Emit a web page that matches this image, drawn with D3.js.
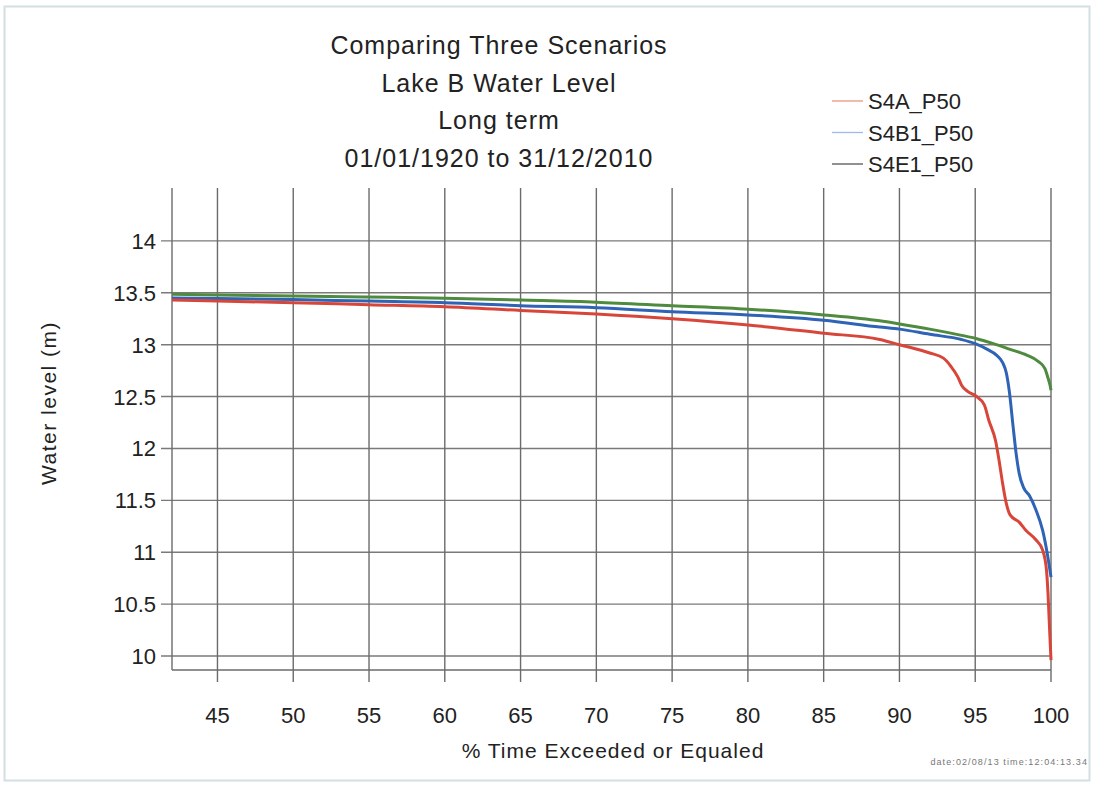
<!DOCTYPE html>
<html><head><meta charset="utf-8">
<script src="https://cdn.jsdelivr.net/npm/d3@7"></script>
<style>
html,body{margin:0;padding:0;background:#fff;}
svg{display:block;font-family:"Liberation Sans",Arial,sans-serif;}
</style></head>
<body>
<svg id="chart" width="1095" height="785"></svg>
<script>
const titleLines = ["Comparing Three Scenarios","Lake B Water Level","Long term","01/01/1920 to 31/12/2010"];
const xTicks = [45,50,55,60,65,70,75,80,85,90,95,100];
const yTicks = [10,10.5,11,11.5,12,12.5,13,13.5,14];
const seriesNames = ["S4A_P50","S4B1_P50","S4E1_P50"];
const seriesColors = ["#d8463a","#2f63b6","#4f8b3f"];
const legendColors = ["#e89580","#9dbaea","#555555"];

const s4aX = [42,45,50,55,60,65,70,75,80,85,88.7,90,92,92.9,93.4,93.85,94.1,94.5,95.0,95.6,95.9,96.35,96.6,96.8,97.05,97.3,97.9,98.35,99.0,99.45,99.7,99.8,99.9,100];
const s4aY = [13.43,13.42,13.405,13.385,13.365,13.33,13.296,13.25,13.19,13.11,13.05,13.0,12.92,12.87,12.79,12.69,12.61,12.55,12.51,12.42,12.27,12.07,11.86,11.67,11.47,11.36,11.29,11.21,11.12,11.02,10.83,10.61,10.28,9.96];

const s4b1X = [42,45,50,55,60,65,70,75,80,85,88.7,90,92,94.1,95,95.8,96.4,96.8,97.05,97.25,97.5,97.7,97.9,98.2,98.6,99.0,99.45,99.75,100];
const s4b1Y = [13.45,13.445,13.435,13.42,13.405,13.376,13.357,13.318,13.287,13.236,13.17,13.15,13.10,13.05,13.01,12.955,12.90,12.83,12.73,12.55,12.21,11.95,11.76,11.62,11.54,11.41,11.21,10.99,10.76];

const s4e1X = [42,45,50,55,60,65,70,75,80,85,88.7,90,92,94.1,95.05,96.2,97.3,98.4,99.15,99.6,99.8,99.95,100];
const s4e1Y = [13.486,13.48,13.47,13.46,13.448,13.43,13.41,13.376,13.342,13.287,13.23,13.20,13.15,13.09,13.06,13.01,12.955,12.90,12.84,12.77,12.68,12.60,12.56];

const svg = d3.select("#chart");
const L = 172, R = 1051, T = 188, B = 670;
const x = d3.scaleLinear().domain([42,100]).range([L,R]);
const y = d3.scaleLinear().domain([9.865,14.51]).range([B,T]);

// outer frame
svg.append("rect").attr("x",4.5).attr("y",6.5).attr("width",1085).attr("height",774)
  .attr("fill","none").attr("stroke","#d3dfe2").attr("stroke-width",2);

const grid = svg.append("g").attr("stroke","#6b6b6b").attr("stroke-width",1.4);
grid.selectAll("line.h").data(yTicks).join("line")
  .attr("x1",L-11).attr("x2",R).attr("y1",d=>y(d)).attr("y2",d=>y(d)).attr("stroke","#7a7a7a");
grid.selectAll("line.v").data(xTicks).join("line")
  .attr("x1",d=>x(d)).attr("x2",d=>x(d)).attr("y1",T).attr("y2",B+12);
grid.append("line").attr("x1",L).attr("x2",L).attr("y1",T).attr("y2",B);
grid.append("line").attr("x1",L).attr("x2",R).attr("y1",B).attr("y2",B);

// tick labels
svg.append("g").selectAll("text").data(yTicks).join("text")
  .attr("x",156).attr("y",d=>y(d)+8).attr("text-anchor","end")
  .attr("font-size",22).attr("fill","#222").text(d=>d);
svg.append("g").selectAll("text").data(xTicks).join("text")
  .attr("x",d=>x(d)).attr("y",723).attr("text-anchor","middle")
  .attr("font-size",22).attr("fill","#222").text(d=>d);

// axis titles
svg.append("text").attr("x",613).attr("y",758).attr("text-anchor","middle")
  .attr("font-size",21).attr("letter-spacing",1).attr("fill","#222").text("% Time Exceeded or Equaled");
svg.append("text").attr("transform","translate(56,403) rotate(-90)").attr("text-anchor","middle")
  .attr("font-size",21).attr("letter-spacing",1.5).attr("fill","#222").text("Water level (m)");

// title
svg.append("g").selectAll("text").data(titleLines).join("text")
  .attr("x",499).attr("y",(d,i)=>54+i*37.5).attr("text-anchor","middle")
  .attr("font-size",25).attr("letter-spacing",1).attr("fill","#222").text(d=>d);

// series
const series = [
  {xs:s4aX, ys:s4aY},
  {xs:s4b1X, ys:s4b1Y},
  {xs:s4e1X, ys:s4e1Y}
];
const line = d3.line().x(d=>x(d[0])).y(d=>y(d[1])).curve(d3.curveMonotoneX);
[2,1,0].forEach(i=>{
  const s = series[i];
  const pts = s.xs.map((v,k)=>[v,s.ys[k]]);
  svg.append("path").datum(pts).attr("d",line).attr("fill","none")
    .attr("stroke",seriesColors[i]).attr("stroke-width",3).attr("stroke-linejoin","round");
});

// legend
const lg = svg.append("g");
seriesNames.forEach((n,i)=>{
  const cy = 101 + i*31.5;
  lg.append("line").attr("x1",832).attr("x2",863).attr("y1",cy).attr("y2",cy)
    .attr("stroke",legendColors[i]).attr("stroke-width",1.3);
  lg.append("text").attr("x",868).attr("y",cy+8).attr("font-size",22).attr("fill","#222").text(n);
});

// footer stamp
svg.append("text").attr("x",1088).attr("y",765).attr("text-anchor","end")
  .attr("font-size",9).attr("letter-spacing",1.1).attr("fill","#777").text("date:02/08/13 time:12:04:13.34");
</script>
</body></html>
